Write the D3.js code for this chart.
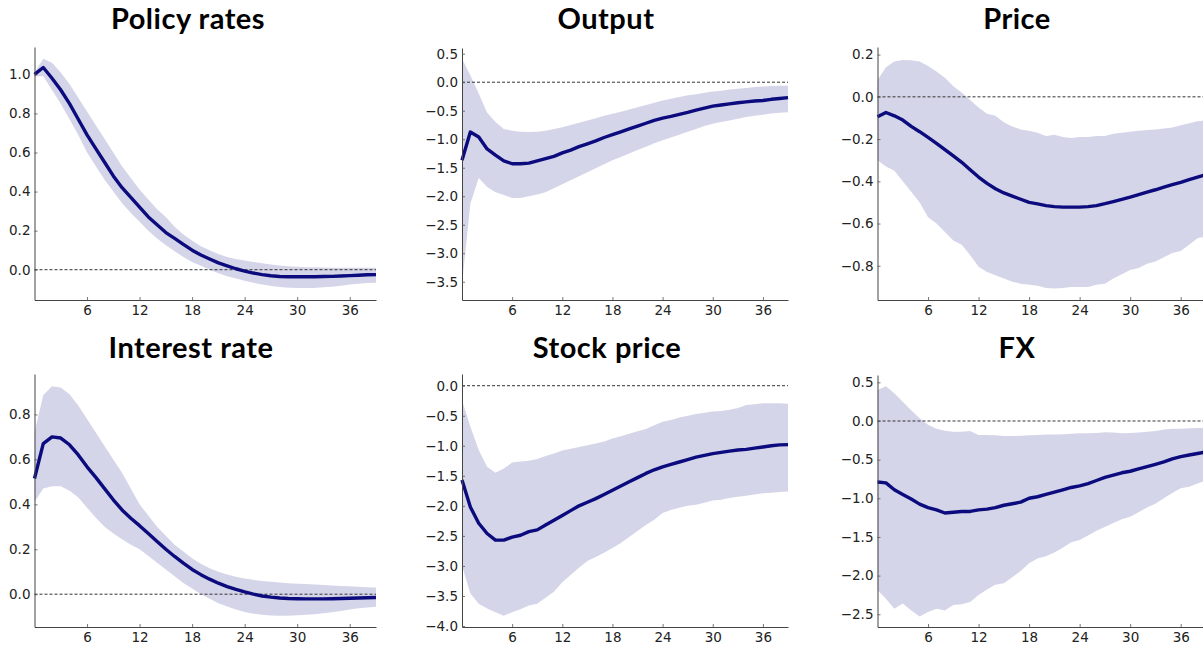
<!DOCTYPE html>
<html>
<head>
<meta charset="utf-8">
<script src="https://cdn.jsdelivr.net/npm/d3@7"></script>
<style>
  html, body { margin: 0; padding: 0; background: #fff; }
  svg { display: block; }
</style>
</head>
<body>
<script>
// ---------- DATA ----------
const horizon = [0,1,2,3,4,5,6,7,8,9,10,11,12,13,14,15,16,17,18,19,20,21,22,23,24,25,26,27,28,29,30,31,32,33,34,35,36,37,38,39];
const xTickValues = [6, 12, 18, 24, 30, 36];

const titles = ["Policy rates", "Output", "Price", "Interest rate", "Stock price", "FX"];

const policyMean = [1.0,1.035,0.98,0.92,0.85,0.77,0.69,0.62,0.55,0.48,0.42,0.37,0.32,0.27,0.23,0.19,0.16,0.13,0.10,0.075,0.055,0.035,0.02,0.005,-0.007,-0.017,-0.025,-0.031,-0.035,-0.036,-0.036,-0.036,-0.036,-0.035,-0.034,-0.032,-0.03,-0.028,-0.026,-0.025];
const policyHi = [1.01,1.08,1.06,1.01,0.95,0.88,0.81,0.74,0.67,0.60,0.53,0.47,0.41,0.36,0.31,0.27,0.22,0.18,0.15,0.12,0.10,0.08,0.065,0.055,0.047,0.04,0.033,0.027,0.022,0.018,0.015,0.013,0.012,0.011,0.01,0.01,0.01,0.01,0.01,0.01];
const policyLo = [0.99,0.99,0.92,0.85,0.77,0.69,0.60,0.53,0.46,0.40,0.34,0.29,0.245,0.20,0.16,0.125,0.095,0.065,0.04,0.02,0.0,-0.018,-0.033,-0.045,-0.057,-0.067,-0.076,-0.083,-0.088,-0.092,-0.094,-0.094,-0.093,-0.09,-0.087,-0.082,-0.076,-0.072,-0.068,-0.067];
const policyTicks = [0.0, 0.2, 0.4, 0.6, 0.8, 1.0];

const outputMean = [-1.37,-0.875,-0.96,-1.17,-1.28,-1.38,-1.43,-1.43,-1.42,-1.38,-1.34,-1.30,-1.24,-1.19,-1.13,-1.08,-1.03,-0.97,-0.92,-0.87,-0.82,-0.77,-0.72,-0.67,-0.63,-0.60,-0.565,-0.53,-0.49,-0.455,-0.42,-0.40,-0.38,-0.36,-0.345,-0.33,-0.32,-0.30,-0.285,-0.27];
const outputHi = [0.41,0.12,-0.2,-0.53,-0.70,-0.82,-0.85,-0.87,-0.875,-0.87,-0.85,-0.82,-0.79,-0.75,-0.71,-0.67,-0.63,-0.59,-0.555,-0.52,-0.48,-0.44,-0.40,-0.36,-0.32,-0.29,-0.26,-0.23,-0.21,-0.185,-0.165,-0.15,-0.13,-0.115,-0.10,-0.085,-0.075,-0.068,-0.062,-0.06];
const outputLo = [-3.55,-2.13,-1.68,-1.84,-1.93,-1.98,-2.03,-2.03,-2.0,-1.97,-1.93,-1.86,-1.79,-1.72,-1.65,-1.58,-1.51,-1.44,-1.37,-1.31,-1.25,-1.19,-1.13,-1.07,-1.02,-0.97,-0.92,-0.87,-0.82,-0.77,-0.73,-0.70,-0.67,-0.64,-0.61,-0.59,-0.57,-0.55,-0.535,-0.525];
const outputTicks = [0.5, 0.0, -0.5, -1.0, -1.5, -2.0, -2.5, -3.0, -3.5];

const priceMean = [-0.094,-0.074,-0.09,-0.11,-0.14,-0.165,-0.192,-0.22,-0.25,-0.28,-0.31,-0.345,-0.38,-0.41,-0.435,-0.455,-0.47,-0.485,-0.50,-0.507,-0.515,-0.52,-0.522,-0.522,-0.522,-0.52,-0.515,-0.506,-0.496,-0.486,-0.475,-0.463,-0.451,-0.44,-0.428,-0.416,-0.405,-0.392,-0.38,-0.368];
const priceHi = [0.08,0.14,0.167,0.175,0.173,0.167,0.146,0.12,0.09,0.05,0.02,-0.015,-0.05,-0.08,-0.09,-0.12,-0.14,-0.155,-0.16,-0.17,-0.185,-0.18,-0.19,-0.195,-0.19,-0.19,-0.185,-0.185,-0.175,-0.17,-0.165,-0.16,-0.157,-0.155,-0.15,-0.145,-0.135,-0.125,-0.115,-0.113];
const priceLo = [-0.30,-0.33,-0.35,-0.40,-0.45,-0.50,-0.57,-0.60,-0.64,-0.68,-0.70,-0.75,-0.805,-0.83,-0.845,-0.86,-0.875,-0.885,-0.89,-0.895,-0.905,-0.907,-0.905,-0.90,-0.90,-0.90,-0.89,-0.885,-0.86,-0.84,-0.82,-0.81,-0.79,-0.78,-0.76,-0.74,-0.73,-0.70,-0.67,-0.66];
const priceTicks = [0.2, 0.0, -0.2, -0.4, -0.6, -0.8];

const interestMean = [0.515,0.67,0.70,0.695,0.665,0.62,0.567,0.52,0.47,0.42,0.375,0.338,0.305,0.27,0.235,0.2,0.168,0.138,0.11,0.087,0.067,0.049,0.034,0.021,0.01,0.0,-0.008,-0.013,-0.017,-0.019,-0.02,-0.021,-0.021,-0.021,-0.02,-0.019,-0.018,-0.017,-0.016,-0.015];
const interestHi = [0.72,0.886,0.926,0.92,0.89,0.84,0.78,0.72,0.66,0.60,0.54,0.47,0.40,0.35,0.30,0.26,0.22,0.19,0.16,0.135,0.115,0.10,0.088,0.078,0.07,0.064,0.059,0.055,0.052,0.049,0.047,0.045,0.043,0.041,0.039,0.037,0.035,0.033,0.031,0.03];
const interestLo = [0.41,0.47,0.48,0.48,0.46,0.43,0.385,0.34,0.30,0.27,0.245,0.22,0.20,0.17,0.14,0.11,0.08,0.05,0.025,0.0,-0.02,-0.04,-0.055,-0.068,-0.079,-0.087,-0.092,-0.095,-0.096,-0.096,-0.094,-0.092,-0.089,-0.085,-0.08,-0.075,-0.068,-0.063,-0.059,-0.056];
const interestTicks = [0.0, 0.2, 0.4, 0.6, 0.8];

const stockMean = [-1.57,-2.02,-2.29,-2.46,-2.57,-2.57,-2.52,-2.49,-2.43,-2.40,-2.32,-2.24,-2.16,-2.08,-2.00,-1.94,-1.88,-1.81,-1.74,-1.67,-1.60,-1.53,-1.46,-1.40,-1.35,-1.31,-1.27,-1.23,-1.19,-1.16,-1.13,-1.11,-1.09,-1.07,-1.06,-1.04,-1.02,-1.00,-0.985,-0.98];
const stockHi = [-0.24,-0.68,-1.07,-1.35,-1.45,-1.38,-1.28,-1.26,-1.25,-1.22,-1.17,-1.13,-1.08,-1.05,-1.02,-0.99,-0.96,-0.93,-0.88,-0.84,-0.80,-0.76,-0.72,-0.66,-0.60,-0.57,-0.53,-0.50,-0.47,-0.45,-0.43,-0.42,-0.40,-0.37,-0.32,-0.31,-0.29,-0.29,-0.29,-0.30];
const stockLo = [-3.0,-3.46,-3.63,-3.71,-3.77,-3.83,-3.77,-3.72,-3.66,-3.63,-3.53,-3.43,-3.27,-3.15,-3.03,-2.92,-2.85,-2.78,-2.70,-2.62,-2.52,-2.42,-2.32,-2.23,-2.12,-2.07,-2.03,-2.0,-1.98,-1.95,-1.91,-1.90,-1.87,-1.85,-1.83,-1.81,-1.79,-1.78,-1.77,-1.76];
const stockTicks = [0.0, -0.5, -1.0, -1.5, -2.0, -2.5, -3.0, -3.5, -4.0];

const fxMean = [-0.79,-0.80,-0.89,-0.95,-1.01,-1.075,-1.12,-1.15,-1.19,-1.18,-1.17,-1.17,-1.15,-1.14,-1.12,-1.09,-1.07,-1.05,-1.00,-0.98,-0.95,-0.92,-0.89,-0.86,-0.84,-0.81,-0.77,-0.73,-0.70,-0.67,-0.65,-0.62,-0.59,-0.56,-0.53,-0.49,-0.46,-0.44,-0.42,-0.40];
const fxHi = [0.40,0.45,0.36,0.25,0.14,0.035,-0.05,-0.10,-0.125,-0.14,-0.14,-0.13,-0.18,-0.18,-0.185,-0.195,-0.195,-0.19,-0.185,-0.18,-0.175,-0.175,-0.17,-0.165,-0.16,-0.16,-0.155,-0.145,-0.15,-0.16,-0.155,-0.15,-0.14,-0.13,-0.11,-0.10,-0.10,-0.095,-0.09,-0.09];
const fxLo = [-2.19,-2.30,-2.43,-2.36,-2.45,-2.53,-2.47,-2.43,-2.45,-2.38,-2.37,-2.34,-2.25,-2.18,-2.12,-2.10,-2.02,-1.94,-1.84,-1.78,-1.75,-1.70,-1.64,-1.57,-1.54,-1.48,-1.42,-1.37,-1.32,-1.27,-1.24,-1.18,-1.12,-1.07,-1.00,-0.93,-0.87,-0.85,-0.81,-0.77];
const fxTicks = [0.5, 0.0, -0.5, -1.0, -1.5, -2.0, -2.5];

// ---------- LAYOUT ----------
const W = 1203, H = 646;
const panels = [
  {title: titles[0], mean: policyMean, lo: policyLo, hi: policyHi, ticks: policyTicks,
   yDom: [-0.155, 1.14], left: 34.5, right: 376, top: 47, bottom: 300, tx: 188, ty: 29},
  {title: titles[1], mean: outputMean, lo: outputLo, hi: outputHi, ticks: outputTicks,
   yDom: [-3.82, 0.6], left: 462, right: 788, top: 48, bottom: 300, tx: 606, ty: 29},
  {title: titles[2], mean: priceMean, lo: priceLo, hi: priceHi, ticks: priceTicks,
   yDom: [-0.962, 0.236], left: 877.5, right: 1206, top: 47, bottom: 300, tx: 1017, ty: 29},
  {title: titles[3], mean: interestMean, lo: interestLo, hi: interestHi, ticks: interestTicks,
   yDom: [-0.146, 0.98], left: 34.5, right: 376, top: 374, bottom: 627, tx: 191, ty: 358},
  {title: titles[4], mean: stockMean, lo: stockLo, hi: stockHi, ticks: stockTicks,
   yDom: [-4.017, 0.195], left: 462, right: 788, top: 374, bottom: 627, tx: 607, ty: 358},
  {title: titles[5], mean: fxMean, lo: fxLo, hi: fxHi, ticks: fxTicks,
   yDom: [-2.665, 0.595], left: 877.5, right: 1206, top: 375, bottom: 627, tx: 1017, ty: 358}
];

const svg = d3.select("body").append("svg")
  .attr("width", W).attr("height", H)
  .attr("viewBox", `0 0 ${W} ${H}`);

const fmt = d3.format(".1f");

panels.forEach(p => {
  const g = svg.append("g");
  const x = d3.scaleLinear().domain([0, 39]).range([p.left, p.right]);
  const y = d3.scaleLinear().domain(p.yDom).range([p.bottom, p.top]);

  const area = d3.area()
    .x((d, i) => x(horizon[i]))
    .y0((d, i) => y(p.lo[i]))
    .y1((d, i) => y(p.hi[i]));
  g.append("path").datum(p.mean).attr("d", area)
    .attr("fill", "#000080").attr("fill-opacity", 0.165).attr("stroke", "none");

  g.append("line")
    .attr("x1", x(0)).attr("x2", x(39))
    .attr("y1", y(0)).attr("y2", y(0))
    .attr("stroke", "#333").attr("stroke-width", 1)
    .attr("stroke-dasharray", "3,2");

  const line = d3.line()
    .x((d, i) => x(horizon[i]))
    .y(d => y(d));
  g.append("path").datum(p.mean).attr("d", line)
    .attr("fill", "none").attr("stroke", "#0b0b7e")
    .attr("stroke-width", 3.4).attr("stroke-linejoin", "round");

  const yAxis = d3.axisLeft(y).tickValues(p.ticks).tickFormat(fmt)
    .tickSizeInner(-3).tickSizeOuter(0).tickPadding(4);
  const ya = g.append("g").attr("transform", `translate(${p.left},0)`).call(yAxis);

  const xAxis = d3.axisBottom(x).tickValues(xTickValues).tickFormat(d3.format("d"))
    .tickSizeInner(-3).tickSizeOuter(0).tickPadding(5);
  const xa = g.append("g").attr("transform", `translate(0,${p.bottom})`).call(xAxis);

  [ya, xa].forEach(a => {
    a.select(".domain").attr("stroke", "#444").attr("stroke-width", 1);
    a.selectAll(".tick line").attr("stroke", "#555").attr("stroke-width", 0.8);
    a.selectAll(".tick text").attr("fill", "#222")
      .style("font-family", "'DejaVu Sans', sans-serif").style("font-size", "13.5px");
  });

  svg.append("text")
    .attr("x", p.tx).attr("y", p.ty)
    .attr("text-anchor", "middle")
    .style("font-family", "Lato, 'Open Sans', sans-serif")
    .style("font-weight", "bold")
    .style("font-size", "29px")
    .style("letter-spacing", "0.5px")
    .attr("fill", "#000")
    .text(p.title);
});
</script>
</body>
</html>
